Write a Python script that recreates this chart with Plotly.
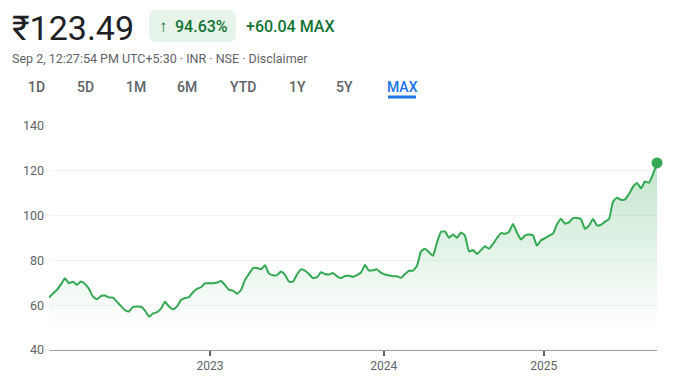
import plotly.graph_objects as go

# Closing prices (INR), evenly spaced samples from start of listing to Sep 2 2025
prices = [
    63.45, 65.2, 66.9, 69.3, 72.0, 69.8, 70.5, 69.1, 70.6, 69.5,
    67.3, 63.8, 62.7, 64.1, 64.3, 63.5, 63.4, 61.5, 59.6, 57.8,
    57.2, 59.3, 59.4, 59.3, 57.6, 54.9, 56.3, 56.9, 58.5, 61.5,
    59.4, 58.2, 59.5, 62.3, 63.2, 63.6, 65.8, 67.3, 68.0, 69.8,
    69.8, 69.8, 70.1, 70.8, 69.0, 66.8, 66.5, 65.1, 66.8, 71.3,
    74.0, 76.6, 76.6, 76.1, 77.8, 74.1, 73.4, 73.4, 75.0, 73.5,
    70.5, 70.5, 73.7, 76.0, 75.4, 73.9, 72.1, 72.5, 74.7, 73.9,
    73.7, 74.4, 72.9, 72.1, 73.0, 73.1, 72.7, 73.4, 74.6, 77.9,
    75.4, 75.6, 76.0, 74.5, 73.7, 73.3, 72.9, 72.9, 72.2, 73.9,
    75.4, 75.4, 77.6, 84.0, 85.2, 83.6, 82.1, 88.0, 92.8, 92.9,
    90.1, 91.6, 90.1, 92.5, 91.0, 84.0, 84.6, 82.9, 84.6, 86.3,
    85.2, 87.3, 90.0, 92.2, 91.9, 92.8, 96.2, 92.4, 89.3, 91.1,
    91.6, 91.1, 86.6, 89.0, 89.9, 91.0, 92.0, 96.1, 98.6, 96.4,
    97.0, 98.9, 98.9, 98.4, 94.1, 95.5, 98.5, 95.6, 95.9, 97.3,
    98.4, 106.2, 108.0, 107.1, 107.2, 109.7, 112.8, 114.6, 112.2, 115.2,
    114.7, 118.5, 123.49,
]
sample_index = list(range(len(prices)))

year_tick_index = [40.25, 83.7, 123.7]
year_tick_labels = ["2023", "2024", "2025"]
y_ticks = [40, 60, 80, 100, 120, 140]

price_label = "₹123.49"
change_pct = "94.63%"
change_abs = "+60.04 MAX"
subtitle = "Sep 2, 12:27:54 PM UTC+5:30 · INR · NSE · Disclaimer"
ranges = ["1D", "5D", "1M", "6M", "YTD", "1Y", "5Y", "MAX"]
range_centers = [36, 85, 136, 187, 243, 297, 344, 402]

OFF = 8                      # page body margin
W, H = 678 - OFF, 378 - OFF  # figure size
L, R, T, B = 49, 657, 126, 350   # plot area in page pixels
GREEN = "#34a853"
FONT = "Roboto"


def px(x):
    return (x - L) / (R - L)


def py(y):
    return (B - y) / (B - T)


fig = go.Figure()
fig.add_trace(go.Scatter(
    x=sample_index, y=prices, mode="lines",
    line=dict(color=GREEN, width=2, shape="spline", smoothing=0.4),
    fill="tozeroy",
    fillgradient=dict(type="vertical",
                      colorscale=[[0, "rgba(52,168,83,0)"], [0.1, "rgba(52,168,83,0.02)"],
                                  [1, "rgba(52,168,83,0.30)"]],
                      start=48, stop=124),
    hoverinfo="skip", showlegend=False,
))
fig.add_trace(go.Scatter(
    x=[sample_index[-1]], y=[prices[-1]], mode="markers",
    marker=dict(color=GREEN, size=11), cliponaxis=False,
    hoverinfo="skip", showlegend=False,
))


def rrect(x0, y0, x1, y1, r):
    def P(x, y):
        return f"{px(x)},{py(y)}"
    return (f"M {P(x0 + r, y0)} L {P(x1 - r, y0)} Q {P(x1, y0)} {P(x1, y0 + r)} "
            f"L {P(x1, y1 - r)} Q {P(x1, y1)} {P(x1 - r, y1)} L {P(x0 + r, y1)} "
            f"Q {P(x0, y1)} {P(x0, y1 - r)} L {P(x0, y0 + r)} Q {P(x0, y0)} {P(x0 + r, y0)} Z")


shapes = [
    dict(type="path", xref="paper", yref="paper", path=rrect(149, 10, 236, 42, 7),
         fillcolor="#e6f4ea", line=dict(width=0), layer="below"),
    dict(type="rect", xref="paper", yref="paper", x0=px(388), x1=px(416), y0=py(98.5), y1=py(95.5),
         fillcolor="#1a73e8", line=dict(width=0)),
]

ann = []
ann.append(dict(text=price_label, x=px(10), y=py(28), xanchor="left", yanchor="middle",
                font=dict(family=FONT, size=34, color="#202124")))
ann.append(dict(text="↑", x=px(163), y=py(26), xanchor="center", yanchor="middle",
                font=dict(family=FONT, size=17, color="#137333", weight=700)))
ann.append(dict(text=change_pct, x=px(173), y=py(26), xanchor="left", yanchor="middle",
                font=dict(family=FONT, size=16, color="#137333", weight=500)))
ann.append(dict(text=change_abs, x=px(244), y=py(26), xanchor="left", yanchor="middle",
                font=dict(family=FONT, size=16, color="#137333", weight=500)))
ann.append(dict(text=subtitle, x=px(10), y=py(58), xanchor="left", yanchor="middle",
                font=dict(family=FONT, size=12.5, color="#5f6368")))
for lab, cx in zip(ranges, range_centers):
    ann.append(dict(text=lab, x=px(cx), y=py(87), xanchor="center", yanchor="middle",
                    font=dict(family=FONT, size=14, weight=500,
                              color="#1a73e8" if lab == "MAX" else "#5f6368")))
for a in ann:
    a.update(xref="paper", yref="paper", showarrow=False)

fig.update_layout(
    width=W, height=H,
    margin=dict(l=L - OFF, r=W + OFF - R, t=T - OFF, b=H + OFF - B),
    paper_bgcolor="white", plot_bgcolor="white",
    annotations=ann, shapes=shapes,
    font=dict(family=FONT, color="#5f6368", size=12),
    xaxis=dict(range=[0, len(prices) - 1], tickvals=year_tick_index, ticktext=year_tick_labels,
               showgrid=False, zeroline=False, showline=True, linecolor="#9aa0a6", linewidth=1,
               ticks="outside", ticklen=5, tickwidth=2, tickcolor="#5f6368",
               tickfont=dict(size=12, color="#5f6368"), fixedrange=True, automargin=False),
    yaxis=dict(range=[40, 140], tickvals=y_ticks, showgrid=True, gridcolor="#f1f3f4", gridwidth=1,
               zeroline=False, showline=False, ticks="", ticklabelstandoff=4,
               tickfont=dict(size=12.5, color="#5f6368"), fixedrange=True, automargin=False),
)
fig.write_html("out.html")
